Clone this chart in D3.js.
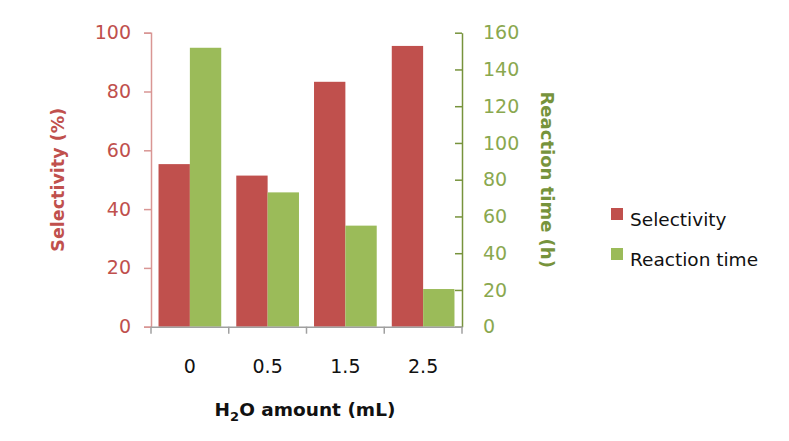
<!DOCTYPE html>
<html><head><meta charset="utf-8">
<script src="https://cdn.jsdelivr.net/npm/d3@7"></script>
<style>body{margin:0;background:#fff}svg{display:block}text{font-family:"DejaVu Sans",sans-serif}</style>
</head><body>
<svg id="c" width="789" height="441"></svg>
<script>
const categories = ["0", "0.5", "1.5", "2.5"];
const selectivity = [55.3, 51.4, 83.3, 95.5];
const reactionTime = [151.8, 73.1, 55, 20.5];
const leftTicks = [0, 20, 40, 60, 80, 100];
const rightTicks = [0, 20, 40, 60, 80, 100, 120, 140, 160];
const seriesNames = ["Selectivity", "Reaction time"];

const RED = "#C0504D", GREEN = "#9BBB59";
const svg = d3.select("#c");
const L = 151, R = 462, T = 32.7, B = 326.7;

const x = d3.scaleBand().domain(categories).range([L, R]).padding(0);
const xs = d3.scaleBand().domain(seriesNames).range([0, x.bandwidth()]).paddingInner(0).paddingOuter(0.24);
const yL = d3.scaleLinear().domain([0, 100]).range([B, T]);
const yR = d3.scaleLinear().domain([0, 160]).range([B, T]);

// bars
const g = svg.append("g");
categories.forEach((c, i) => {
  g.append("rect").attr("x", x(c) + xs("Selectivity")).attr("width", xs.bandwidth())
    .attr("y", yL(selectivity[i])).attr("height", B - yL(selectivity[i])).attr("fill", RED);
  g.append("rect").attr("x", x(c) + xs("Reaction time")).attr("width", xs.bandwidth())
    .attr("y", yR(reactionTime[i])).attr("height", B - yR(reactionTime[i])).attr("fill", GREEN);
});

// left axis
const la = svg.append("g").attr("transform", `translate(${L},0)`)
  .call(d3.axisLeft(yL).tickValues(leftTicks).tickSize(7).tickPadding(13));
la.select(".domain").attr("stroke", "#D99694").attr("stroke-width", 1.5);
la.selectAll(".tick line").attr("stroke", "#D99694").attr("stroke-width", 1.5);
la.selectAll(".tick text").attr("fill", "#C0504D").style("font-size", "19px");

// right axis
const ra = svg.append("g").attr("transform", `translate(${R},0)`)
  .call(d3.axisRight(yR).tickValues(rightTicks).tickSizeInner(-7).tickSizeOuter(0).tickPadding(14));
ra.select(".domain").attr("stroke", "#77933C").attr("stroke-width", 1.5);
ra.selectAll(".tick line").attr("stroke", "#77933C").attr("stroke-width", 1.5);
ra.selectAll(".tick text").attr("fill", "#8AA84F").style("font-size", "19px").attr("x", 21);

// x axis
const xa = svg.append("g").attr("transform", `translate(0,${B})`)
  .call(d3.axisBottom(x).tickSize(0).tickPadding(33));
xa.select(".domain").attr("stroke", "#A0A0A0").attr("stroke-width", 1.5);
xa.selectAll(".tick text").attr("fill", "#111").style("font-size", "19px");
const bounds = [L, ...categories.map(c => x(c) + x.bandwidth())];
svg.append("g").selectAll("line").data(bounds).join("line")
  .attr("x1", d => d).attr("x2", d => d).attr("y1", B).attr("y2", B + 7)
  .attr("stroke", "#A0A0A0").attr("stroke-width", 1.5);

// axis titles
svg.append("text").attr("transform", `translate(64,${(T + B) / 2}) rotate(-90)`)
  .attr("text-anchor", "middle").attr("fill", RED).style("font-size", "17.5px").style("font-weight", "bold")
  .text("Selectivity (%)");
svg.append("text").attr("transform", `translate(541,${(T + B) / 2}) rotate(90)`)
  .attr("text-anchor", "middle").attr("fill", "#77933C").style("font-size", "18px").style("font-weight", "bold")
  .text("Reaction time (h)");
const xt = svg.append("text").attr("x", 305).attr("y", 416).attr("text-anchor", "middle")
  .attr("fill", "#111").style("font-size", "18.5px").style("font-weight", "bold");
xt.append("tspan").text("H");
xt.append("tspan").attr("dy", 5).style("font-size", "13px").text("2");
xt.append("tspan").attr("dy", -5).text("O amount (mL)");

// legend
const lg = svg.append("g");
seriesNames.forEach((s, i) => {
  lg.append("rect").attr("x", 611).attr("y", 208 + i * 40).attr("width", 12).attr("height", 12)
    .attr("fill", i === 0 ? RED : GREEN);
  lg.append("text").attr("x", 630).attr("y", 226 + i * 40).attr("fill", "#111")
    .style("font-size", "18.5px").text(s);
});
</script>
</body></html>
